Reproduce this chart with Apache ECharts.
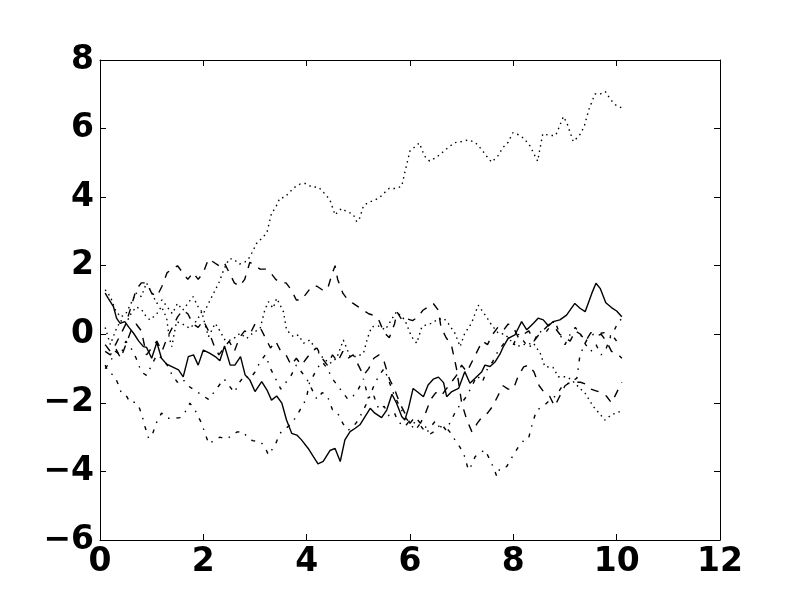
<!DOCTYPE html>
<html>
<head>
<meta charset="utf-8">
<script src="https://cdn.jsdelivr.net/npm/echarts@6/dist/echarts.min.js"></script>
<style>
  html, body { margin: 0; padding: 0; background: #fff; }
  #chart { width: 800px; height: 600px; }
</style>
</head>
<body>
<div id="chart"></div>
<script>
// tick labels
const xTicks = [0, 2, 4, 6, 8, 10, 12]
const yTicks = [-6, -4, -2, 0, 2, 4, 6, 8]

// random-walk traces, [x, y]
const solidWalk = [[0.1,1.2],[0.16,1.05],[0.26,0.81],[0.32,0.47],[0.39,0.32],[0.48,0.37],[0.56,0.2],[0.65,0.03],[0.75,-0.2],[0.84,-0.36],[0.9,-0.38],[1.0,-0.7],[1.1,-0.24],[1.19,-0.7],[1.29,-0.87],[1.4,-0.95],[1.52,-1.04],[1.61,-1.24],[1.71,-0.65],[1.81,-0.6],[1.9,-0.9],[2.0,-0.46],[2.12,-0.55],[2.23,-0.65],[2.32,-0.77],[2.41,-0.34],[2.52,-0.9],[2.61,-0.9],[2.72,-0.65],[2.81,-1.19],[2.9,-1.33],[3.0,-1.67],[3.13,-1.38],[3.23,-1.62],[3.32,-1.92],[3.42,-1.8],[3.52,-2.01],[3.61,-2.5],[3.71,-2.89],[3.81,-2.94],[3.9,-3.08],[4.03,-3.33],[4.13,-3.57],[4.22,-3.78],[4.32,-3.71],[4.45,-3.39],[4.55,-3.33],[4.65,-3.71],[4.74,-3.08],[4.84,-2.84],[4.94,-2.74],[5.03,-2.64],[5.13,-2.4],[5.23,-2.16],[5.32,-2.3],[5.45,-2.43],[5.55,-2.21],[5.65,-1.75],[5.74,-2.01],[5.84,-2.4],[5.9,-2.5],[5.97,-2.16],[6.06,-1.58],[6.16,-1.7],[6.26,-1.82],[6.35,-1.48],[6.45,-1.31],[6.55,-1.25],[6.65,-1.41],[6.71,-1.82],[6.81,-1.67],[6.94,-1.58],[7.06,-1.09],[7.16,-1.43],[7.26,-1.28],[7.39,-1.09],[7.45,-0.9],[7.55,-0.94],[7.65,-0.8],[7.74,-0.58],[7.81,-0.35],[7.9,-0.12],[8.03,-0.02],[8.16,0.37],[8.26,0.13],[8.39,0.32],[8.48,0.47],[8.58,0.42],[8.68,0.24],[8.77,0.37],[8.9,0.42],[9.03,0.56],[9.19,0.9],[9.29,0.76],[9.39,0.66],[9.52,1.2],[9.6,1.49],[9.68,1.34],[9.79,0.92],[9.9,0.78],[10.0,0.68],[10.1,0.51]]

const dottedHigh = [[0.1,1.3],[0.2,1.1],[0.3,0.7],[0.4,0.5],[0.5,0.6],[0.6,0.9],[0.7,1.2],[0.8,1.1],[0.9,1.5],[1.0,1.2],[1.1,0.9],[1.2,1.0],[1.3,0.8],[1.4,0.6],[1.5,0.9],[1.6,0.7],[1.7,0.9],[1.8,1.1],[1.9,0.8],[2.0,0.6],[2.1,0.9],[2.2,1.2],[2.3,1.5],[2.4,1.9],[2.5,2.2],[2.58,2.2],[2.7,2.05],[2.8,2.1],[2.87,2.19],[2.95,2.4],[3.03,2.65],[3.13,2.8],[3.23,2.96],[3.32,3.53],[3.4,3.7],[3.48,3.97],[3.58,4.0],[3.68,4.16],[3.78,4.3],[3.87,4.38],[3.97,4.4],[4.1,4.3],[4.23,4.29],[4.35,4.1],[4.45,3.92],[4.55,3.48],[4.62,3.6],[4.68,3.67],[4.75,3.6],[4.81,3.56],[4.9,3.5],[4.97,3.28],[5.03,3.4],[5.1,3.75],[5.2,3.85],[5.3,3.9],[5.42,4.0],[5.52,4.15],[5.6,4.26],[5.72,4.25],[5.84,4.32],[5.92,4.85],[6.0,5.35],[6.08,5.45],[6.18,5.58],[6.28,5.2],[6.38,5.05],[6.5,5.15],[6.61,5.28],[6.74,5.45],[6.87,5.59],[7.0,5.62],[7.13,5.67],[7.26,5.6],[7.38,5.4],[7.48,5.2],[7.58,5.02],[7.7,5.2],[7.8,5.45],[7.9,5.6],[7.99,5.88],[8.1,5.82],[8.2,5.72],[8.32,5.5],[8.47,5.05],[8.57,5.85],[8.7,5.8],[8.82,5.8],[8.97,6.35],[9.04,6.15],[9.16,5.62],[9.28,5.8],[9.37,6.05],[9.46,6.55],[9.58,7.01],[9.67,7.0],[9.78,7.08],[9.88,6.85],[9.98,6.69],[10.1,6.6]]

const dashedHigh = [[0.1,-0.3],[0.2,-0.5],[0.3,-0.3],[0.4,0.0],[0.5,0.3],[0.6,0.8],[0.7,1.3],[0.8,1.5],[0.9,1.5],[1.0,1.2],[1.1,1.1],[1.2,1.4],[1.3,1.8],[1.4,1.9],[1.5,2.0],[1.6,1.8],[1.7,1.6],[1.8,1.8],[1.9,1.6],[2.0,1.8],[2.1,2.2],[2.2,2.1],[2.3,2.0],[2.4,2.1],[2.5,1.8],[2.6,1.5],[2.7,1.4],[2.8,1.6],[2.9,2.1],[3.0,2.0],[3.1,1.9],[3.2,1.9],[3.3,1.8],[3.4,1.6],[3.5,1.5],[3.6,1.5],[3.7,1.3],[3.8,1.0],[3.9,1.0],[4.0,1.2],[4.1,1.4],[4.2,1.4],[4.3,1.3],[4.4,1.3],[4.5,1.8],[4.55,2.0],[4.6,1.6],[4.7,1.2],[4.8,1.0],[4.9,0.9],[5.0,0.8],[5.1,0.7],[5.2,0.6],[5.3,0.55],[5.4,0.4],[5.5,0.05],[5.6,-0.1],[5.7,0.3],[5.75,0.65],[5.85,0.4],[5.95,0.45],[6.05,0.4],[6.15,0.5],[6.25,0.7],[6.35,0.8],[6.45,0.9],[6.55,0.7],[6.6,0.2],[6.7,-0.1],[6.8,-0.3],[6.9,-1.0],[7.0,-2.0],[7.1,-2.5],[7.2,-2.85],[7.3,-2.6],[7.4,-2.4],[7.5,-2.3],[7.6,-2.1],[7.7,-1.8],[7.8,-1.5],[7.9,-1.6],[8.0,-1.6],[8.1,-1.2],[8.2,-0.95],[8.3,-0.9],[8.4,-1.1],[8.5,-1.5],[8.6,-1.7],[8.7,-1.8],[8.8,-2.1],[8.9,-1.8],[9.0,-1.5],[9.1,-1.4],[9.2,-1.4],[9.3,-1.4],[9.4,-1.45],[9.5,-1.6],[9.6,-1.65],[9.7,-1.7],[9.8,-1.8],[9.9,-2.0],[10.0,-1.7],[10.1,-1.4]]

const dashDotLow = [[0.1,-0.9],[0.16,-1.09],[0.22,-1.15],[0.29,-1.24],[0.35,-1.45],[0.42,-1.74],[0.52,-1.82],[0.58,-1.99],[0.68,-1.98],[0.75,-2.1],[0.81,-2.35],[0.87,-2.69],[0.94,-3.03],[1.0,-2.98],[1.1,-2.55],[1.19,-2.3],[1.3,-2.45],[1.42,-2.45],[1.55,-2.43],[1.65,-2.26],[1.74,-2.01],[1.84,-2.21],[1.9,-2.4],[1.97,-2.6],[2.03,-2.89],[2.11,-3.2],[2.2,-3.1],[2.32,-3.0],[2.45,-3.06],[2.55,-2.95],[2.65,-2.85],[2.77,-2.84],[2.84,-2.98],[2.95,-3.1],[3.1,-3.13],[3.19,-3.28],[3.26,-3.52],[3.39,-3.23],[3.48,-2.89],[3.6,-2.75],[3.71,-2.58],[3.8,-2.4],[3.87,-2.21],[3.95,-2.0],[4.0,-1.82],[4.06,-1.38],[4.1,-1.3],[4.2,-1.0],[4.3,-0.8],[4.4,-1.0],[4.5,-1.3],[4.6,-1.5],[4.7,-1.7],[4.8,-1.9],[4.9,-1.8],[5.0,-1.6],[5.1,-1.3],[5.2,-1.9],[5.3,-1.8],[5.4,-2.2],[5.5,-2.1],[5.6,-2.4],[5.7,-2.3],[5.77,-2.55],[5.9,-2.7],[6.0,-2.5],[6.1,-2.6],[6.19,-2.64],[6.32,-2.89],[6.4,-2.7],[6.48,-2.55],[6.6,-2.7],[6.71,-2.74],[6.8,-2.9],[6.87,-3.08],[6.97,-3.3],[7.06,-3.57],[7.13,-3.96],[7.2,-3.8],[7.26,-3.57],[7.35,-3.47],[7.45,-3.37],[7.55,-3.67],[7.62,-3.9],[7.68,-4.15],[7.74,-3.91],[7.87,-3.86],[7.97,-3.6],[8.1,-3.28],[8.2,-3.1],[8.29,-3.06],[8.37,-2.6],[8.45,-2.21],[8.58,-2.1],[8.71,-1.92],[8.82,-1.8],[8.94,-1.53],[9.1,-1.4],[9.23,-1.28],[9.29,-0.6],[9.35,-0.4],[9.42,-0.17],[9.55,0.0],[9.68,0.03],[9.78,0.05],[9.87,-0.07],[9.95,0.1],[10.03,0.37],[10.1,0.45]]

const dottedMid = [[0.1,0.2],[0.2,-0.3],[0.3,0.1],[0.4,0.4],[0.5,0.3],[0.6,0.6],[0.7,0.8],[0.81,0.71],[0.9,0.5],[0.97,0.42],[1.1,0.6],[1.19,0.81],[1.29,0.47],[1.34,-0.1],[1.39,-0.36],[1.48,0.37],[1.6,0.3],[1.74,0.17],[1.82,0.3],[1.9,0.47],[1.97,0.66],[2.03,0.3],[2.1,-0.07],[2.23,0.32],[2.32,0.1],[2.42,-0.17],[2.52,-0.17],[2.61,-0.1],[2.71,0.03],[2.84,-0.12],[2.97,0.05],[3.1,0.17],[3.19,0.71],[3.26,0.95],[3.35,0.76],[3.42,1.05],[3.55,0.66],[3.61,0.13],[3.74,-0.07],[3.84,-0.02],[3.94,-0.26],[4.06,-0.17],[4.19,-0.46],[4.32,-0.7],[4.45,-0.85],[4.58,-0.7],[4.71,-0.17],[4.84,-0.65],[4.97,-0.65],[5.1,-0.55],[5.18,-0.1],[5.26,0.22],[5.39,0.24],[5.52,0.13],[5.63,0.4],[5.74,0.66],[5.9,0.42],[6.03,-0.07],[6.13,-0.26],[6.23,0.22],[6.32,0.28],[6.42,0.32],[6.52,0.42],[6.65,0.47],[6.74,0.32],[6.87,0.03],[6.97,-0.36],[7.06,0.03],[7.19,0.32],[7.32,0.85],[7.48,0.51],[7.58,0.27],[7.71,0.03],[7.84,0.0],[7.94,-0.17],[8.06,-0.36],[8.2,-0.3],[8.39,-0.26],[8.52,-0.55],[8.61,-0.94],[8.77,-0.97],[8.87,-1.24],[9.03,-1.24],[9.13,-1.33],[9.29,-1.58],[9.39,-1.72],[9.55,-2.11],[9.66,-2.3],[9.77,-2.5],[9.9,-2.35],[10.1,-2.23]]

const dashedMid = [[0.1,-0.5],[0.2,-0.6],[0.3,-0.4],[0.4,-0.7],[0.5,-0.3],[0.6,0.1],[0.7,0.3],[0.8,0.1],[0.9,-0.6],[1.0,-0.4],[1.1,-0.2],[1.2,-0.5],[1.3,-0.1],[1.4,0.2],[1.5,0.5],[1.6,0.7],[1.7,0.6],[1.8,0.3],[1.9,0.2],[2.0,0.4],[2.1,0.1],[2.2,-0.3],[2.3,-0.6],[2.4,-0.4],[2.5,-0.2],[2.6,-0.5],[2.7,-0.1],[2.8,0.1],[2.9,0.0],[3.0,0.3],[3.1,0.2],[3.2,-0.1],[3.3,-0.4],[3.4,-0.2],[3.5,-0.5],[3.6,-0.6],[3.7,-0.9],[3.8,-0.7],[3.9,-0.9],[4.0,-0.7],[4.1,-0.5],[4.2,-0.4],[4.3,-0.7],[4.4,-0.9],[4.5,-0.6],[4.6,-0.8],[4.7,-0.5],[4.8,-0.7],[4.9,-0.6],[5.0,-0.9],[5.1,-1.2],[5.2,-1.0],[5.3,-0.7],[5.4,-0.6],[5.5,-0.8],[5.6,-1.3],[5.7,-1.6],[5.8,-2.0],[5.9,-2.3],[6.0,-2.6],[6.1,-2.4],[6.2,-2.6],[6.3,-2.3],[6.4,-1.9],[6.5,-1.7],[6.6,-1.8],[6.7,-1.6],[6.8,-1.4],[6.9,-1.2],[7.0,-0.9],[7.1,-1.1],[7.2,-0.8],[7.3,-0.5],[7.4,-0.2],[7.5,-0.3],[7.6,0.0],[7.7,0.2],[7.8,0.1],[7.9,0.3],[8.0,0.2],[8.1,-0.1],[8.2,0.0],[8.3,0.1],[8.4,-0.2],[8.5,0.0],[8.6,0.15],[8.7,0.3],[8.8,0.2],[8.9,0.0],[9.0,-0.1],[9.1,-0.2],[9.2,0.1],[9.3,0.0],[9.4,-0.2],[9.5,0.05],[9.6,-0.05],[9.7,0.0],[9.8,-0.2],[9.9,-0.5],[10.0,-0.55],[10.1,-0.7]]

const dashDotMid = [[0.1,-1.0],[0.2,-0.8],[0.3,-0.5],[0.4,-0.6],[0.5,-0.2],[0.6,-0.4],[0.7,-0.7],[0.8,-1.1],[0.9,-1.2],[1.0,-0.9],[1.1,-0.6],[1.2,-0.7],[1.3,-0.9],[1.4,-1.2],[1.5,-1.4],[1.6,-1.3],[1.7,-1.5],[1.8,-1.6],[1.9,-1.7],[2.0,-1.8],[2.1,-1.9],[2.2,-1.7],[2.3,-1.5],[2.4,-1.3],[2.5,-1.5],[2.6,-1.7],[2.7,-1.4],[2.8,-1.2],[2.9,-1.3],[3.0,-1.1],[3.1,-0.8],[3.2,-0.6],[3.3,-1.0],[3.4,-1.3],[3.5,-1.6],[3.6,-1.4],[3.7,-1.2],[3.8,-0.9],[3.9,-1.1],[4.0,-1.3],[4.1,-1.6],[4.2,-1.9],[4.3,-1.7],[4.4,-1.8],[4.5,-2.2],[4.6,-2.3],[4.7,-2.6],[4.8,-2.8],[4.9,-2.7],[5.0,-2.5],[5.1,-2.2],[5.2,-1.9],[5.3,-1.5],[5.4,-1.2],[5.5,-1.0],[5.6,-1.4],[5.7,-1.8],[5.8,-2.1],[5.9,-2.4],[6.0,-2.6],[6.1,-2.8],[6.2,-2.6],[6.3,-2.7],[6.4,-2.9],[6.5,-2.8],[6.6,-2.6],[6.7,-2.8],[6.8,-2.5],[6.9,-2.2],[7.0,-2.0],[7.1,-1.8],[7.2,-1.5],[7.3,-1.2],[7.4,-1.4],[7.5,-1.0],[7.6,-0.8],[7.7,-0.5],[7.8,-0.3],[7.9,-0.1],[8.0,-0.3],[8.1,0.0],[8.2,-0.2],[8.3,-0.4],[8.4,-0.2],[8.5,0.1],[8.6,0.0],[8.7,0.2],[8.8,0.4],[8.9,0.0],[9.0,-0.3],[9.1,0.0],[9.2,0.2],[9.3,0.0],[9.4,-0.3],[9.5,-0.5],[9.6,-0.3],[9.7,-0.6],[9.8,-0.4],[9.9,0.0],[10.0,-0.2],[10.1,-0.1]]

const DASH = [8, 8]
const DASHDOT = [4, 7, 1.5, 7]
const DOT = [1.5, 4]

function walk(data, type) {
  return {
    type: 'line',
    data: data,
    symbol: 'none',
    showSymbol: false,
    silent: true,
    lineStyle: { color: '#000', width: 1.4, type: type }
  }
}

const chart = echarts.init(document.getElementById('chart'))

const labelStyle = {
  fontSize: 33,
  fontWeight: 'bold',
  fontFamily: 'DejaVu Sans',
  color: '#000'
}
const frameLine = { show: true, onZero: false, lineStyle: { color: '#000', width: 1 } }
const tickIn = { show: true, inside: true, length: 6, lineStyle: { color: '#000', width: 1 } }

chart.setOption({
  animation: false,
  backgroundColor: '#fff',
  grid: { left: 100, right: 80, top: 60, bottom: 60, containLabel: false },
  xAxis: [
    {
      type: 'value', position: 'bottom',
      min: xTicks[0], max: xTicks[xTicks.length - 1], interval: 2,
      axisLine: frameLine, axisTick: tickIn, splitLine: { show: false },
      axisLabel: Object.assign({ margin: 6 }, labelStyle)
    },
    {
      type: 'value', position: 'top',
      min: xTicks[0], max: xTicks[xTicks.length - 1], interval: 2,
      axisLine: frameLine, axisTick: tickIn, splitLine: { show: false },
      axisLabel: { show: false }
    }
  ],
  yAxis: [
    {
      type: 'value', position: 'left',
      min: yTicks[0], max: yTicks[yTicks.length - 1], interval: 2,
      axisLine: frameLine, axisTick: tickIn, splitLine: { show: false },
      axisLabel: Object.assign({
        margin: 6,
        formatter: v => String(v).replace('-', '\u2212')
      }, labelStyle)
    },
    {
      type: 'value', position: 'right',
      min: yTicks[0], max: yTicks[yTicks.length - 1], interval: 2,
      axisLine: frameLine, axisTick: tickIn, splitLine: { show: false },
      axisLabel: { show: false }
    }
  ],
  series: [
    walk(solidWalk, 'solid'),
    walk(dashedHigh, DASH),
    walk(dashDotLow, DASHDOT),
    walk(dottedHigh, DOT),
    walk(dashedMid, DASH),
    walk(dashDotMid, DASHDOT),
    walk(dottedMid, DOT)
  ]
})
</script>
</body>
</html>
